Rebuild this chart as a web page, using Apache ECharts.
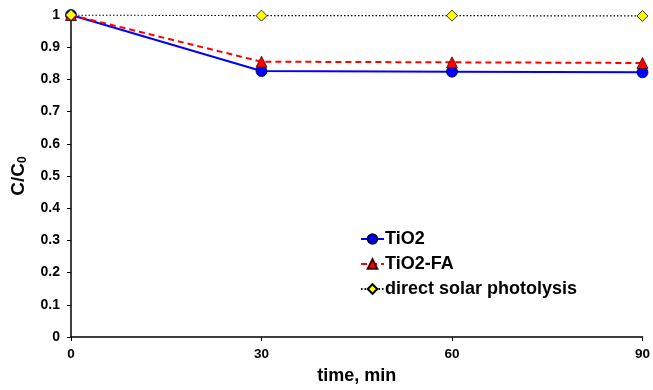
<!DOCTYPE html>
<html><head><meta charset="utf-8">
<script src="https://cdn.jsdelivr.net/npm/echarts@6/dist/echarts.min.js"></script>
<style>html,body{margin:0;padding:0;background:#fff}#c{width:653px;height:390px}</style>
</head><body><div id="c"></div>
<script>
const times = [0, 30, 60, 90];
const tio2 = [1.0, 0.826, 0.824, 0.822];
const tio2fa = [1.0, 0.855, 0.853, 0.851];
const photolysis = [1.0, 0.998, 0.998, 0.997];
const seriesNames = ['TiO2', 'TiO2-FA', 'direct solar photolysis'];
const yTicks = [0, 0.1, 0.2, 0.3, 0.4, 0.5, 0.6, 0.7, 0.8, 0.9, 1];
const xTicks = [0, 30, 60, 90];

const pair = arr => times.map((t, i) => [t, arr[i]]);
const font = 'Liberation Sans, Arial, sans-serif';
const chart = echarts.init(document.getElementById('c'));
chart.setOption({
  animation: false,
  grid: {left: 71, right: 8, top: 15, bottom: 52},
  legend: {
    left: 355, top: 225, orient: 'vertical', itemGap: 7, itemWidth: 23, itemHeight: 12,
    data: seriesNames,
    textStyle: {fontFamily: font, fontWeight: 'bold', fontSize: 18, color: '#000', padding: [0, 0, 0, -4]}
  },
  xAxis: {
    type: 'value', min: 0, max: 90, interval: 30,
    name: 'time, min', nameLocation: 'middle', nameGap: 30,
    nameTextStyle: {fontFamily: font, fontWeight: 'bold', fontSize: 18, color: '#000'},
    axisLine: {lineStyle: {color: '#000', width: 1.5}},
    axisTick: {show: true, length: 4, lineStyle: {color: '#000'}},
    axisLabel: {fontFamily: font, fontWeight: 'bold', fontSize: 13.5, color: '#000', margin: 10},
    splitLine: {show: false}
  },
  yAxis: {
    type: 'value', min: 0, max: 1, interval: 0.1,
    name: '{a|C/C}{s|0}', nameLocation: 'middle', nameGap: 42, nameRotate: 90,
    nameTextStyle: {rich: {
      a: {fontFamily: font, fontWeight: 'bold', fontSize: 19, color: '#000'},
      s: {fontFamily: font, fontWeight: 'bold', fontSize: 12, color: '#000', verticalAlign: 'bottom', padding: [9, 0, 0, 0]}
    }},
    axisLine: {show: true, lineStyle: {color: '#000', width: 1.5}},
    axisTick: {show: true, length: 4, lineStyle: {color: '#000'}},
    axisLabel: {fontFamily: font, fontWeight: 'bold', fontSize: 14, color: '#000', margin: 11,
      formatter: v => String(Math.round(v * 10) / 10)},
    splitLine: {show: false}
  },
  series: [
    {name: seriesNames[2], type: 'line', data: pair(photolysis), symbol: 'diamond', symbolSize: 11, z: 3,
      lineStyle: {color: '#000', width: 1.2, type: [1.5, 2]},
      itemStyle: {color: '#ffff00', borderColor: '#000', borderWidth: 0.8}},
    {name: seriesNames[1], type: 'line', data: pair(tio2fa), symbol: 'triangle', symbolSize: 11, z: 2,
      lineStyle: {color: '#ff0000', width: 2, type: [6, 4]},
      itemStyle: {color: '#ff0000', borderColor: '#400', borderWidth: 0.8}},
    {name: seriesNames[0], type: 'line', data: pair(tio2), symbol: 'circle', symbolSize: 11, z: 1,
      lineStyle: {color: '#0000ff', width: 2},
      itemStyle: {color: '#0000ff', borderColor: '#000040', borderWidth: 0.8}}
  ]
});
</script></body></html>
